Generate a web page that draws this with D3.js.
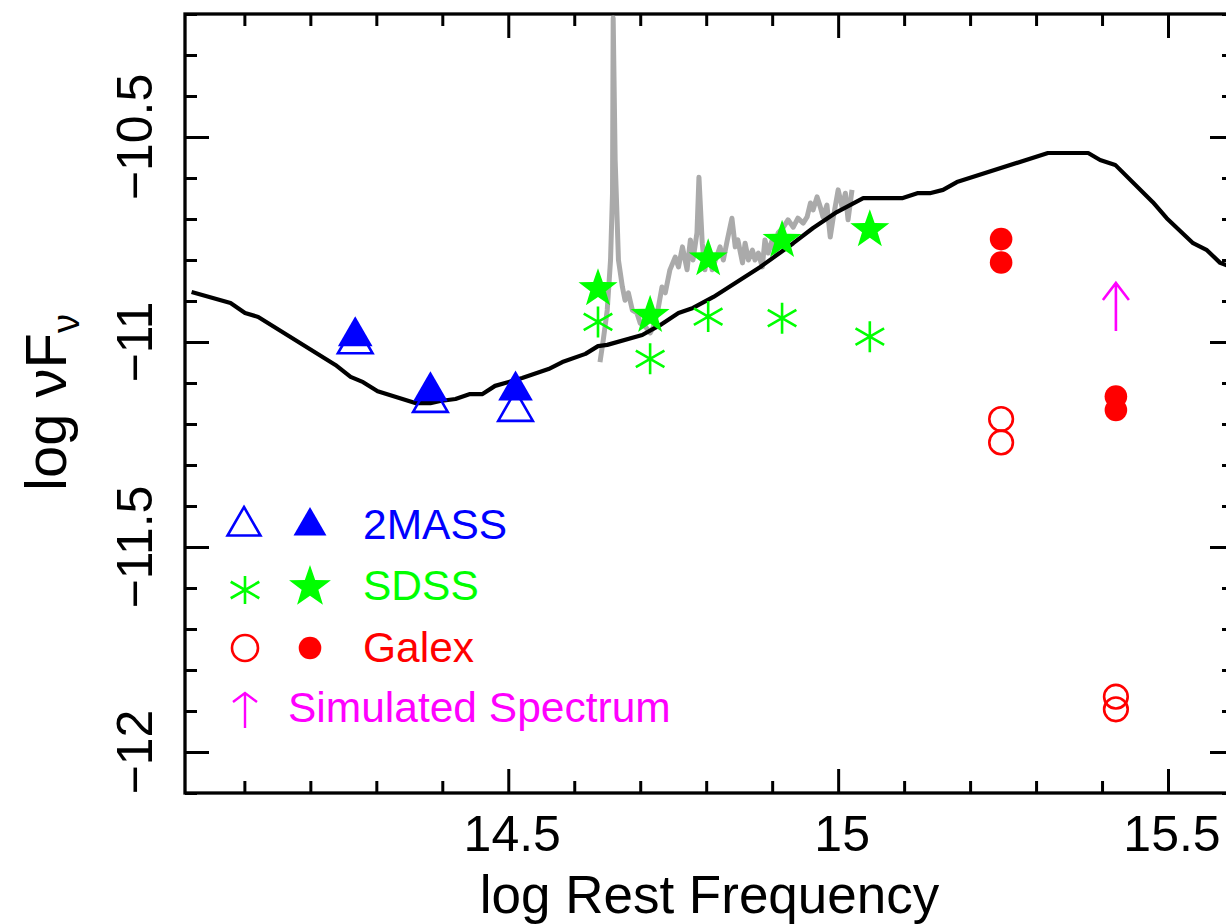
<!DOCTYPE html>
<html>
<head>
<meta charset="utf-8">
<script src="https://cdn.jsdelivr.net/npm/d3@7"></script>
<style>
  body { margin: 0; background: #fff; }
  svg { display: block; }
  text { font-family: "Liberation Sans", Arial, Helvetica, sans-serif; }
</style>
</head>
<body>
<svg id="chart" width="1226" height="924"></svg>
<script>
// ---- Data: log rest frequency (Hz) vs log nuF_nu ----

// Model SED (black curve)
const modelLogNu = [14.020, 14.079, 14.101, 14.121, 14.238, 14.261, 14.280, 14.302, 14.359, 14.382,
  14.397, 14.420, 14.442, 14.461, 14.480, 14.521, 14.561, 14.582, 14.617, 14.636, 14.650, 14.703,
  14.730, 14.758, 14.780, 14.811, 14.882, 14.932, 14.962, 14.998, 15.038, 15.098, 15.120, 15.139,
  15.159, 15.180, 15.318, 15.379, 15.397, 15.420, 15.477, 15.498, 15.538, 15.559, 15.579, 15.600];
const modelLogFlux = [-10.878, -10.905, -10.929, -10.939, -11.056, -11.085, -11.098, -11.120, -11.149, -11.149,
  -11.144, -11.139, -11.127, -11.127, -11.107, -11.088, -11.066, -11.049, -11.029, -11.010, -11.007, -10.983,
  -10.959, -10.929, -10.917, -10.890, -10.817, -10.759, -10.722, -10.683, -10.649, -10.649, -10.637, -10.637,
  -10.629, -10.610, -10.539, -10.539, -10.556, -10.568, -10.659, -10.698, -10.759, -10.776, -10.807, -10.820];

// Optical spectrum (grey curve)
const specLogNu = [14.639, 14.644, 14.650, 14.655, 14.658, 14.659, 14.662, 14.667, 14.673, 14.677,
  14.682, 14.688, 14.695, 14.700, 14.708, 14.715, 14.720, 14.726, 14.733, 14.738, 14.745, 14.753,
  14.758, 14.764, 14.771, 14.776, 14.780, 14.786, 14.789, 14.794, 14.798, 14.803, 14.809, 14.814,
  14.821, 14.826, 14.832, 14.839, 14.844, 14.848, 14.855, 14.859, 14.864, 14.870, 14.874, 14.879,
  14.885, 14.889, 14.894, 14.900, 14.905, 14.909, 14.917, 14.924, 14.932, 14.939, 14.947, 14.953,
  14.958, 14.962, 14.968, 14.973, 14.977, 14.983, 14.988, 14.992, 15.000, 15.006, 15.011, 15.015, 15.021];
const specLogFlux = [-11.049, -10.995, -10.922, -10.800, -10.637, -10.210, -10.556, -10.800, -10.866, -10.898,
  -10.880, -10.922, -10.929, -10.954, -10.963, -10.978, -10.963, -10.929, -10.866, -10.880, -10.824, -10.793,
  -10.817, -10.768, -10.824, -10.751, -10.800, -10.734, -10.598, -10.759, -10.824, -10.768, -10.824, -10.800,
  -10.768, -10.800, -10.751, -10.698, -10.768, -10.751, -10.807, -10.759, -10.800, -10.776, -10.800, -10.783,
  -10.817, -10.751, -10.783, -10.751, -10.783, -10.734, -10.720, -10.702, -10.720, -10.698, -10.710, -10.695,
  -10.661, -10.678, -10.646, -10.671, -10.695, -10.666, -10.744, -10.702, -10.629, -10.671, -10.637, -10.702, -10.629];

// 2MASS photometry
const twomassLogNu = [14.268, 14.382, 14.511];
const twomassOpen = [-11.003, -11.146, -11.168];
const twomassFilled = [-10.986, -11.120, -11.118];

// SDSS photometry
const sdssLogNu = [14.636, 14.715, 14.803, 14.915, 15.048];
const sdssOpen = [-10.951, -11.041, -10.938, -10.942, -10.987];
const sdssFilled = [-10.870, -10.935, -10.797, -10.752, -10.726];

// GALEX photometry
const galexOpenLogNu = [15.247, 15.247, 15.421, 15.421];
const galexOpen = [-11.188, -11.245, -11.865, -11.896];
const galexFilledLogNu = [15.247, 15.247, 15.421, 15.421];
const galexFilled = [-10.749, -10.806, -11.133, -11.166];

// Simulated spectrum lower limit (arrow)
const simLogNu = [15.421];
const simFrom = [-10.973];
const simTo = [-10.856];

// Axis ticks
const xTickLabels = [14.5, 15, 15.5];
const yTickLabels = [-10.5, -11, -11.5, -12];

// Legend
const legendLabels = ["2MASS", "SDSS", "Galex", "Simulated Spectrum"];
const legendColors = ["#0000ff", "#00ff00", "#ff0000", "#ff00ff"];

// ---- Layout ----
const svg = d3.select("#chart");
const pLeft = 185, pRight = 1234, pTop = 14, pBottom = 793;

const x = d3.scaleLinear().domain([14.01, 15.6]).range([pLeft, pRight]);
const y = d3.scaleLinear().domain([-12.1, -10.2]).range([pBottom, pTop]);

const BLUE = "#0000ff", GREEN = "#00ff00", RED = "#ff0000", MAGENTA = "#ff00ff";

// ---- Axes (ticks point inward) ----
const xMinor = d3.range(14.1, 15.61, 0.1).map(v => +v.toFixed(2)).filter(v => xTickLabels.indexOf(v) < 0);
const yMinor = d3.range(-12.1, -10.19, 0.1).map(v => +v.toFixed(2)).filter(v => yTickLabels.indexOf(v) < 0);

function styleAxis(g) {
  g.select(".domain").remove();
  g.selectAll("line").attr("stroke", "#000").attr("stroke-width", 3);
  g.selectAll("text").remove();
}

svg.append("g").attr("transform", `translate(0,${pBottom})`)
  .call(d3.axisBottom(x).tickValues(xTickLabels).tickSize(-24)).call(styleAxis);
svg.append("g").attr("transform", `translate(0,${pBottom})`)
  .call(d3.axisBottom(x).tickValues(xMinor).tickSize(-12)).call(styleAxis);
svg.append("g").attr("transform", `translate(0,${pTop})`)
  .call(d3.axisTop(x).tickValues(xTickLabels).tickSize(-24)).call(styleAxis);
svg.append("g").attr("transform", `translate(0,${pTop})`)
  .call(d3.axisTop(x).tickValues(xMinor).tickSize(-12)).call(styleAxis);
svg.append("g").attr("transform", `translate(${pLeft},0)`)
  .call(d3.axisLeft(y).tickValues(yTickLabels).tickSize(-24)).call(styleAxis);
svg.append("g").attr("transform", `translate(${pLeft},0)`)
  .call(d3.axisLeft(y).tickValues(yMinor).tickSize(-12)).call(styleAxis);
svg.append("g").attr("transform", `translate(${pRight},0)`)
  .call(d3.axisRight(y).tickValues(yTickLabels).tickSize(-24)).call(styleAxis);
svg.append("g").attr("transform", `translate(${pRight},0)`)
  .call(d3.axisRight(y).tickValues(yMinor).tickSize(-12)).call(styleAxis);

// Frame
svg.append("rect")
  .attr("x", pLeft).attr("y", pTop)
  .attr("width", pRight - pLeft).attr("height", pBottom - pTop)
  .attr("fill", "none").attr("stroke", "#000").attr("stroke-width", 3.3);

// Tick labels
svg.append("g").selectAll("text").data(xTickLabels).join("text")
  .attr("x", d => x(d) + 4).attr("y", 851)
  .attr("text-anchor", "middle").attr("font-size", 50).attr("fill", "#000")
  .text(d => String(d));

svg.append("g").selectAll("text").data(yTickLabels).join("text")
  .attr("transform", d => `translate(152,${y(d)}) rotate(-90)`)
  .attr("text-anchor", "middle").attr("font-size", 50).attr("fill", "#000")
  .text(d => String(d).replace("-", "\u2212"));

// Axis titles
svg.append("text")
  .attr("x", (pLeft + pRight) / 2).attr("y", 913)
  .attr("text-anchor", "middle").attr("font-size", 53).attr("fill", "#000")
  .text("log Rest Frequency");

const yTitle = svg.append("text")
  .attr("transform", "translate(66,491) rotate(-90)")
  .attr("text-anchor", "start").attr("font-size", 58).attr("fill", "#000");
yTitle.append("tspan").text("log \u03bdF");
yTitle.append("tspan").attr("font-size", 38).attr("dy", 13).text("\u03bd");

// ---- Curves ----
const plot = svg.append("g");
const line = d3.line().x(d => x(d[0])).y(d => y(d[1]));

plot.append("path")
  .datum(d3.zip(specLogNu, specLogFlux))
  .attr("d", line)
  .attr("fill", "none").attr("stroke", "#aaaaaa").attr("stroke-width", 5)
  .attr("stroke-linejoin", "round");

plot.append("path")
  .datum(d3.zip(modelLogNu, modelLogFlux))
  .attr("d", line)
  .attr("fill", "none").attr("stroke", "#000").attr("stroke-width", 4.2)
  .attr("stroke-linejoin", "round");

// ---- Marker shapes ----
function trianglePath(R) {
  const h = R * Math.sqrt(3) / 2;
  return `M0,${-R}L${h},${R / 2}L${-h},${R / 2}Z`;
}
function starPath(R) {
  const r = R * 0.4, pts = [];
  for (let k = 0; k < 10; k++) {
    const a = -Math.PI / 2 + k * Math.PI / 5;
    const rad = k % 2 ? r : R;
    pts.push([rad * Math.cos(a), rad * Math.sin(a)]);
  }
  return "M" + pts.map(p => p.join(",")).join("L") + "Z";
}
function asteriskPath(rv, rd) {
  const c = Math.cos(Math.PI / 6) * rd, s = Math.sin(Math.PI / 6) * rd;
  return `M0,${-rv}L0,${rv}M${-c},${-s}L${c},${s}M${-c},${s}L${c},${-s}`;
}
function arrowPath(len) {
  return `M0,0L0,${-len}M-13,${-len + 17}L0,${-len}L13,${-len + 17}`;
}

// 2MASS
plot.append("g").selectAll("path").data(d3.zip(twomassLogNu, twomassOpen)).join("path")
  .attr("transform", d => `translate(${x(d[0])},${y(d[1])})`)
  .attr("d", trianglePath(20))
  .attr("fill", "none").attr("stroke", BLUE).attr("stroke-width", 2.6);
plot.append("g").selectAll("path").data(d3.zip(twomassLogNu, twomassFilled)).join("path")
  .attr("transform", d => `translate(${x(d[0])},${y(d[1])})`)
  .attr("d", trianglePath(20))
  .attr("fill", BLUE);

// SDSS
plot.append("g").selectAll("path").data(d3.zip(sdssLogNu, sdssOpen)).join("path")
  .attr("transform", d => `translate(${x(d[0])},${y(d[1])})`)
  .attr("d", asteriskPath(15.5, 16.5))
  .attr("fill", "none").attr("stroke", GREEN).attr("stroke-width", 2.6);
plot.append("g").selectAll("path").data(d3.zip(sdssLogNu, sdssFilled)).join("path")
  .attr("transform", d => `translate(${x(d[0])},${y(d[1])})`)
  .attr("d", starPath(20.5))
  .attr("fill", GREEN);

// GALEX
plot.append("g").selectAll("circle").data(d3.zip(galexOpenLogNu, galexOpen)).join("circle")
  .attr("cx", d => x(d[0])).attr("cy", d => y(d[1])).attr("r", 11.8)
  .attr("fill", "none").attr("stroke", RED).attr("stroke-width", 2.6);
plot.append("g").selectAll("circle").data(d3.zip(galexFilledLogNu, galexFilled)).join("circle")
  .attr("cx", d => x(d[0])).attr("cy", d => y(d[1])).attr("r", 11.3)
  .attr("fill", RED);

// Simulated spectrum lower limit
plot.append("g").selectAll("path").data(d3.zip(simLogNu, simFrom, simTo)).join("path")
  .attr("transform", d => `translate(${x(d[0])},${y(d[1])})`)
  .attr("d", d => arrowPath(y(d[1]) - y(d[2])))
  .attr("fill", "none").attr("stroke", MAGENTA).attr("stroke-width", 2.6);

// ---- Legend ----
const lg = svg.append("g");
const rowY = [526, 588, 648, 710];
// row 1: 2MASS
lg.append("path").attr("transform", `translate(244,${rowY[0]})`).attr("d", trianglePath(19))
  .attr("fill", "none").attr("stroke", BLUE).attr("stroke-width", 2.6);
lg.append("path").attr("transform", `translate(310,${rowY[0]})`).attr("d", trianglePath(19))
  .attr("fill", BLUE);
// row 2: SDSS
lg.append("path").attr("transform", `translate(245,${rowY[1] + 2})`).attr("d", asteriskPath(14, 16.5))
  .attr("fill", "none").attr("stroke", GREEN).attr("stroke-width", 2.6);
lg.append("path").attr("transform", `translate(310,${rowY[1] - 1})`).attr("d", starPath(22))
  .attr("fill", GREEN);
// row 3: Galex
lg.append("circle").attr("cx", 245).attr("cy", rowY[2]).attr("r", 13)
  .attr("fill", "none").attr("stroke", RED).attr("stroke-width", 2.6);
lg.append("circle").attr("cx", 310).attr("cy", rowY[2]).attr("r", 11.3).attr("fill", RED);
// row 4: arrow
lg.append("path").attr("transform", "translate(245,728)")
  .attr("d", "M0,0L0,-35M-12,-26L0,-35L12,-26")
  .attr("fill", "none").attr("stroke", MAGENTA).attr("stroke-width", 2.4);

const textX = [363, 363, 363, 288];
const textY = [539, 600, 662, 722];
lg.selectAll("text.lab").data(legendLabels).join("text")
  .attr("class", "lab")
  .attr("x", (d, i) => textX[i]).attr("y", (d, i) => textY[i])
  .attr("font-size", 42.5).attr("fill", (d, i) => legendColors[i])
  .text(d => d);
</script>
</body>
</html>
